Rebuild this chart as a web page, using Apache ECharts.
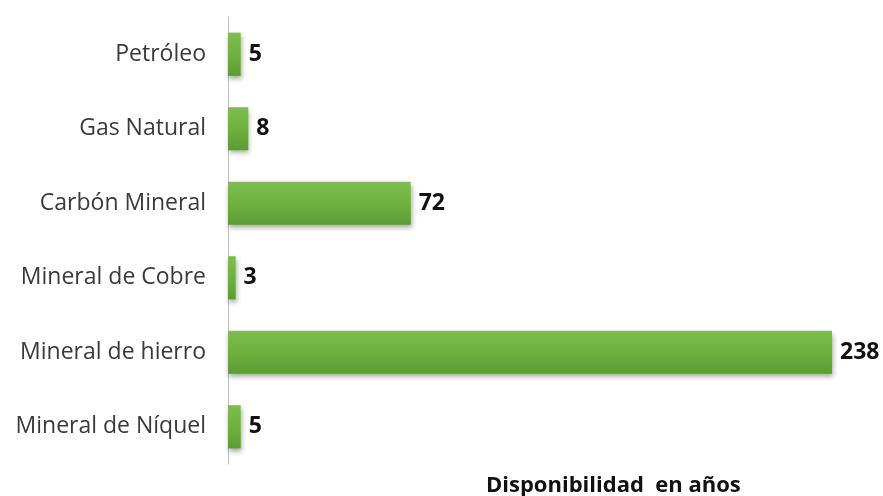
<!DOCTYPE html>
<html>
<head>
<meta charset="utf-8">
<script src="https://cdn.jsdelivr.net/npm/echarts@6/dist/echarts.min.js"></script>
<style>html,body{margin:0;padding:0;background:#fff}#chart{width:883px;height:496px}</style>
</head>
<body>
<div id="chart"></div>
<script>
// categorias de arriba hacia abajo
const categories = ['Petróleo', 'Gas Natural', 'Carbón Mineral', 'Mineral de Cobre', 'Mineral de hierro', 'Mineral de Níquel']
const years = [5, 8, 72, 3, 238, 5]
const axisTitle = 'Disponibilidad  en años'

const chart = echarts.init(document.getElementById('chart'))
chart.setOption({
  animation: false,
  title: { text: axisTitle, left: 481, top: 470,
    textStyle: { fontFamily: 'Open Sans', fontSize: 22, fontWeight: 'bold', color: '#111' } },
  grid: { left: 228, top: 17, width: 604, bottom: 32, containLabel: false },
  xAxis: { type: 'value', min: 0, max: 238, show: false },
  yAxis: {
    type: 'category', data: categories, inverse: true,
    axisLine: { lineStyle: { color: '#bfbfbf', width: 1 } },
    axisTick: { show: false },
    axisLabel: { fontFamily: 'Open Sans', fontSize: 23, color: '#3a3a3a', margin: 22 }
  },
  series: [{
    type: 'bar', data: years, barCategoryGap: '42%',
    itemStyle: {
      color: new echarts.graphic.LinearGradient(0, 0, 0, 1, [
        { offset: 0, color: '#7dbf4f' }, { offset: 0.5, color: '#6fb140' }, { offset: 1, color: '#5c9b35' }]),
      shadowColor: 'rgba(0,0,0,0.35)', shadowBlur: 5, shadowOffsetY: 3, shadowOffsetX: 1
    },
    label: { show: true, position: 'right', distance: 8,
      fontFamily: 'Open Sans', fontSize: 23, fontWeight: 'bold', color: '#111' }
  }]
})
</script>
</body>
</html>
